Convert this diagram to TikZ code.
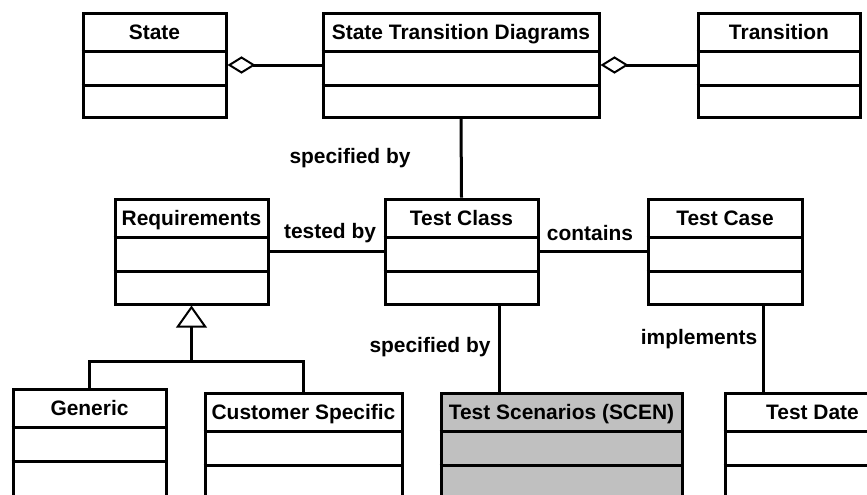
\documentclass[tikz,border=0pt]{standalone}
\usepackage{fontspec}
\setmainfont{Liberation Sans}
\usetikzlibrary{arrows.meta,calc,fit}

\definecolor{scengray}{RGB}{192,192,192}
\tikzset{
classbox/.style={draw, line width=2.25pt, inner sep=0pt},
classtitle/.style={font=\bfseries\fontsize{15.7}{18}\selectfont, inner sep=0pt, anchor=base},
lbl/.style={font=\bfseries\fontsize{15.7}{18}\selectfont, inner sep=0pt},
aggr/.style={-{Diamond[open,length=21pt,width=13pt,line width=1.5pt]}},
gener/.style={-{Triangle[open,length=16.5pt,width=23pt,line width=1.5pt]}}}
\tikzset{every picture/.style={line width=2.25pt}}

\begin{document}
\begin{tikzpicture}[x=0.75pt,y=0.75pt,yscale=-1,xscale=1]

% FRAME

\useasboundingbox (0,0) rectangle (867,494);
\clip (0,0) rectangle (867,494);

% CLASSES

\foreach \nm/\xa/\ya/\xb/\yb/\col/\ttl in {
    state/83/13/226/117/white/State,
    std/323/13/599/117/white/{State Transition Diagrams},
    trans/698/13/860/117/white/Transition,
    req/115/199/268/304/white/Requirements,
    tclass/385/199/538/304/white/{Test Class},
    tcase/648/199/802/304/white/{Test Case},
    gen/13/389/166/520/white/Generic,
    cust/205/393/402/520/white/{Customer Specific},
    tscen/441/393/682/520/scengray/{Test Scenarios (SCEN)},
    tdate/725/393/900/520/white/{Test Date}
}{
    \node [classbox, fill=\col, fit={(\xa,\ya) (\xb,\yb)}] (\nm) {};
    \draw ($(\nm.north west)+(0,39.5)$) -- ($(\nm.north east)+(0,39.5)$);
    \draw ($(\nm.north west)+(0,73.5)$) -- ($(\nm.north east)+(0,73.5)$);
    \node [classtitle] (\nm-title) at ($(\nm.north)+(0,28)$) {\ttl};
}

% AGGREGATIONS

\draw [aggr] (std.west) -- (state.east);
\draw [aggr] (trans.west) -- (std.east);

% ASSOCIATIONS

\draw (std.south) -- (tclass.north);
\draw (req.east) -- (tclass.west);
\draw (tclass.east) -- (tcase.west);
\draw ([xshift=28.5pt]tclass.south) -- ([xshift=28.5pt]tclass.south |- tscen.north);
\draw ([xshift=28.5pt]tcase.south) -- ([xshift=28.5pt]tcase.south |- tdate.north);

% GENERALIZATION

\coordinate (fork) at (req.south |- 0,361);
\draw (gen.north) |- (fork) -| (cust.north);
\draw [gener] (fork) -- (req.south);

% LABELS

\node [lbl] (specby-top) at (350,158) {specified by};
\node [lbl] (testedby) at (330,233) {tested by};
\node [lbl] (contains) at (590,233) {contains};
\node [lbl] (specby-bot) at (430,347) {specified by};
\node [lbl] (implements) at (699,339) {implements};

\end{tikzpicture}
\end{document}
